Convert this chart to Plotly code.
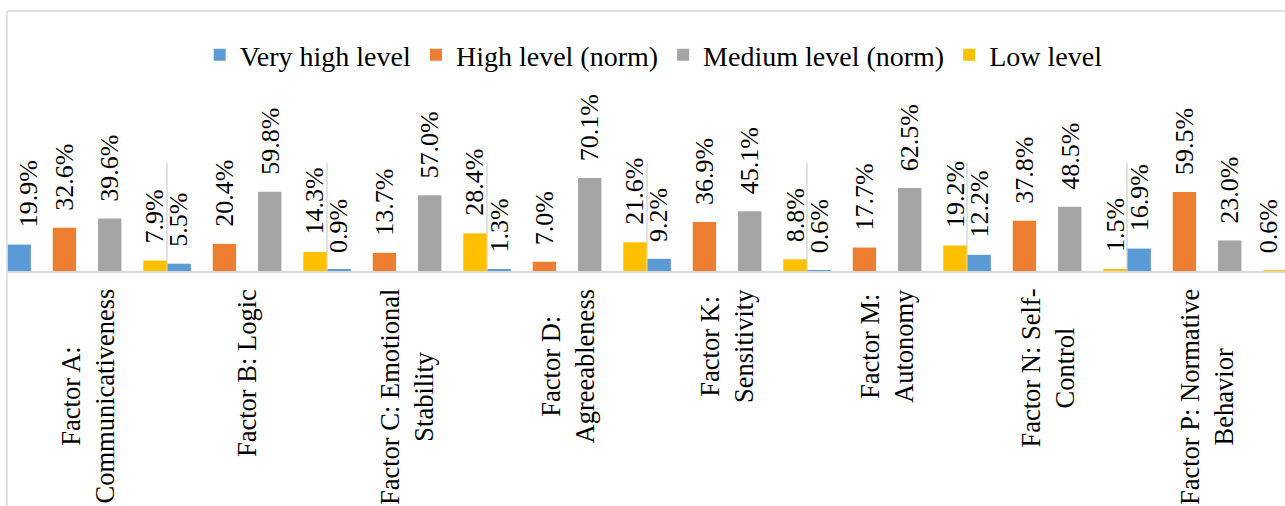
import plotly.graph_objects as go

categories = ["Factor A", "Factor B", "Factor C", "Factor D",
              "Factor K", "Factor M", "Factor N", "Factor P"]
category_labels = [
    "Factor A:<br>Communicativeness",
    "Factor B: Logic",
    "Factor C: Emotional<br>Stability",
    "Factor D:<br>Agreeableness",
    "Factor K:<br>Sensitivity",
    "Factor M:<br>Autonomy",
    "Factor N: Self-<br>Control",
    "Factor P: Normative<br>Behavior",
]
series_names = ["Very high level", "High level (norm)", "Medium level (norm)", "Low level"]
very_high = [19.9, 5.5, 0.9, 1.3, 9.2, 0.6, 12.2, 16.9]
high_norm = [32.6, 20.4, 13.7, 7.0, 36.9, 17.7, 37.8, 59.5]
medium_norm = [39.6, 59.8, 57.0, 70.1, 45.1, 62.5, 48.5, 23.0]
low = [7.9, 14.3, 28.4, 21.6, 8.8, 19.2, 1.5, 0.6]

series_values = [very_high, high_norm, medium_norm, low]
colors = ["#5B9BD5", "#ED7D31", "#A5A5A5", "#FFC000"]

FONT = "Liberation Serif"
BAR_W = 0.146
STEP = 0.283
START = -0.497

W, H = 1285, 506
ML, MR, MT, MB = 7, 0, 120, 235
plot_h = H - MT - MB
px_per_pct = 1.327
ymax = plot_h / px_per_pct

fig = go.Figure()
annotations = []
n_cat = len(categories)
n_ser = len(series_names)
for k, (name, vals, col) in enumerate(zip(series_names, series_values, colors)):
    off = START + k * STEP
    fig.add_trace(go.Bar(
        name=name, x=categories, y=vals,
        width=BAR_W, offset=off,
        marker=dict(color=col, line=dict(width=0)),
        hoverinfo="skip",
    ))
    for i, v in enumerate(vals):
        # keep edge labels inside the chart area
        xs = 0
        if i == 0 and k == 0:
            xs = 9
        elif i == n_cat - 1 and k == n_ser - 1:
            xs = -7
        annotations.append(dict(
            x=i + off + BAR_W / 2, y=v, xref="x", yref="y",
            text=f"{v:.1f}%", textangle=-90, showarrow=False,
            xanchor="center", yanchor="bottom", yshift=15, xshift=xs,
            font=dict(family=FONT, size=26, color="#000000"),
        ))

for cat, lab in zip(categories, category_labels):
    annotations.append(dict(
        x=cat, y=0, xref="x", yref="paper",
        text=lab, textangle=-90, showarrow=False, align="center",
        xanchor="center", yanchor="top", yshift=-16,
        font=dict(family=FONT, size=26.5, color="#000000"),
    ))

shapes = []
# category separators
for i in range(n_cat - 1):
    shapes.append(dict(type="line", xref="x", yref="y",
                       x0=i + 0.5, x1=i + 0.5, y0=0, y1=81.4,
                       line=dict(color="#D9D9D9", width=1.5), layer="below"))
# chart border (top and left)
top_paper = (H - MB - 11) / plot_h
bot_paper = (H - MB - H - 5) / plot_h
shapes.append(dict(type="line", xref="paper", yref="paper",
                   x0=0, x1=1.01, y0=top_paper, y1=top_paper,
                   line=dict(color="#D9D9D9", width=1.5)))
shapes.append(dict(type="line", xref="paper", yref="paper",
                   x0=0, x1=0, y0=top_paper, y1=bot_paper,
                   line=dict(color="#D9D9D9", width=1.5)))

fig.update_layout(
    width=W, height=H,
    margin=dict(l=ML, r=MR, t=MT, b=MB),
    paper_bgcolor="white", plot_bgcolor="white",
    barmode="overlay",
    showlegend=True,
    legend=dict(orientation="h", x=0.506, xanchor="center",
                y=(H - MB - 55) / plot_h, yanchor="middle",
                font=dict(family=FONT, size=28, color="#000000"),
                bgcolor="rgba(0,0,0,0)"),
    xaxis=dict(type="category", range=[-0.5, 7.4875], showgrid=False,
               showline=True, linecolor="#D9D9D9", linewidth=1.5,
               ticks="", showticklabels=False, zeroline=False,
               fixedrange=True),
    yaxis=dict(range=[0, ymax], visible=False, showgrid=False,
               zeroline=False, fixedrange=True),
    annotations=annotations,
    shapes=shapes,
    font=dict(family=FONT),
)

fig.write_html("out.html")
